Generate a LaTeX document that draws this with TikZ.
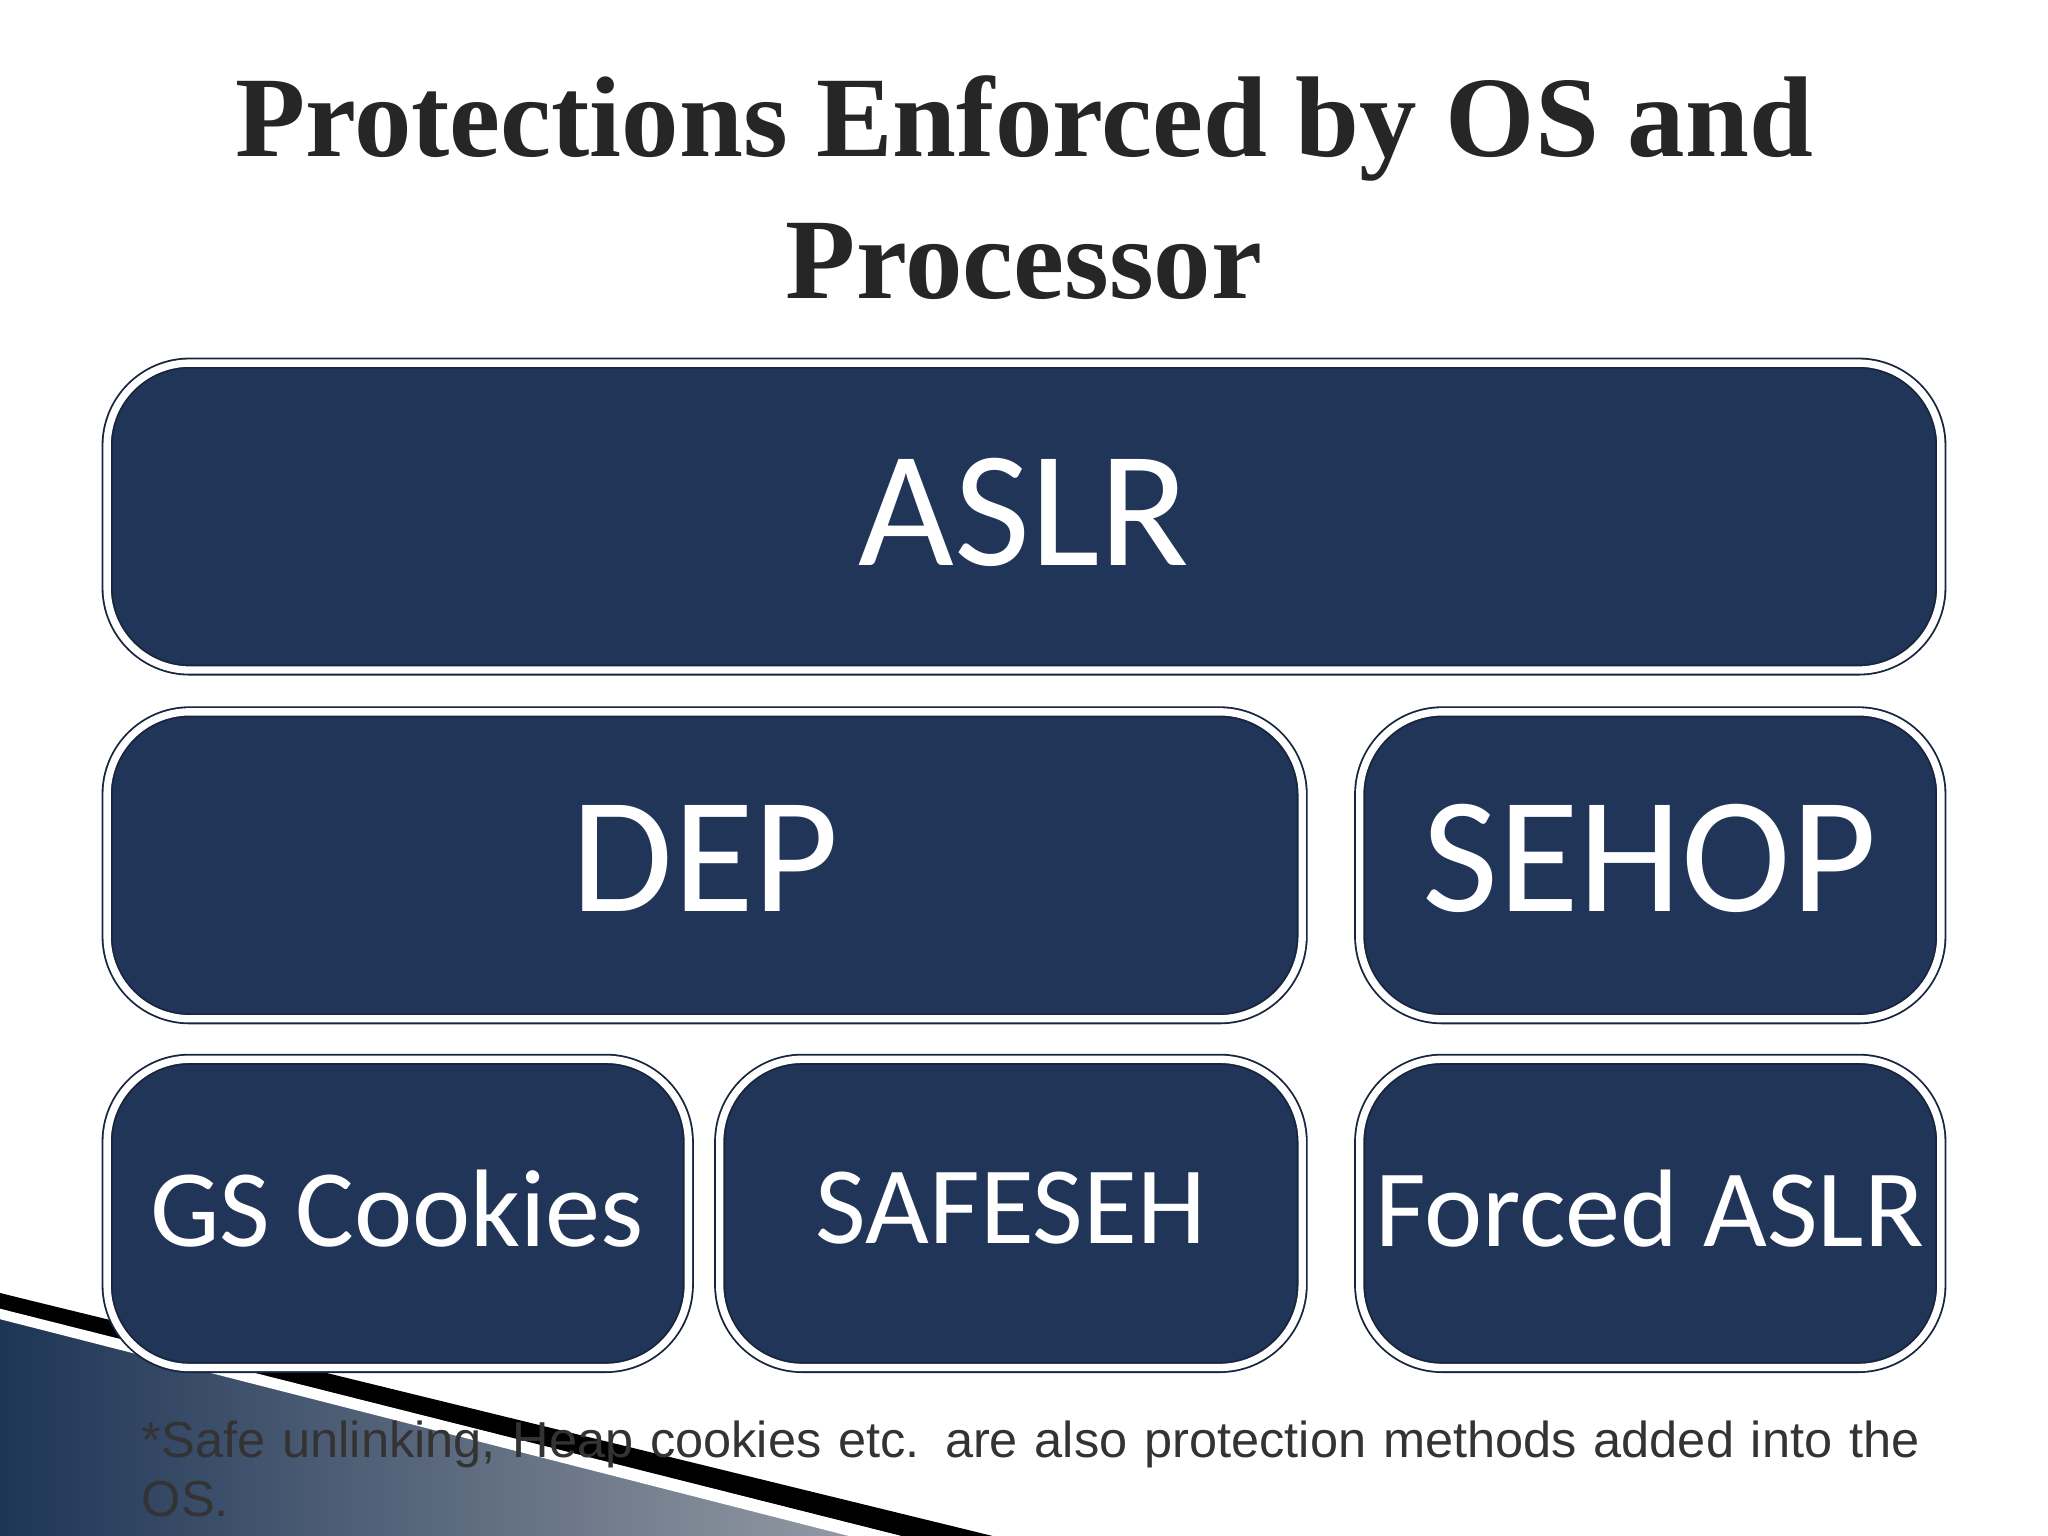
\documentclass[tikz,border=0pt]{standalone}
\usepackage{fontspec}
\setmainfont{Liberation Serif}
\newfontfamily\boxfont{Carlito}
\newfontfamily\notefont{Liberation Sans}
\definecolor{navy}{HTML}{213559}
\definecolor{deco}{HTML}{1E3556}
\begin{document}
\begin{tikzpicture}[x=0.01cm,y=-0.01cm,
  blk/.style={draw=navy!70!black,line width=0.4pt,fill=navy,rounded corners=18,
    double=white,double distance=1.6pt,text=white,inner sep=0},
  big/.style={font=\boxfont\fontsize{36}{40}\selectfont},
  small/.style={font=\boxfont\fontsize{24}{28}\selectfont}]
\useasboundingbox (0,0) rectangle (1568,1176);
% decoration bottom-left
\shade[left color=deco, right color=deco!40!gray!60] (0,990) -- (700,1176) -- (0,1176) -- cycle;
\fill[black] (0,990) -- (760,1176) -- (690,1176) -- (0,1002) -- cycle;
\fill[white] (0,1002) -- (690,1176) -- (650,1176) -- (0,1010) -- cycle;
% title
\node[font=\bfseries\fontsize{25}{30}\selectfont, text=black!85] (t1) at (784,98) {Protections Enforced by OS and};
\node[font=\bfseries\fontsize{25}{30}\selectfont, text=black!85] (t2) at (784,200) {Processor};
% boxes
\path[blk] (82,278) rectangle (1486,513);
\node[big,text=white] (aslr) at (784,392) {ASLR};
\path[blk] (82,545) rectangle (997,780);
\node[big,text=white] (dep) at (540,657) {DEP};
\path[blk] (1041,545) rectangle (1486,780);
\node[big,text=white] (sehop) at (1263,657) {SEHOP};
\path[blk] (82,811) rectangle (527,1047);
\node[small,text=white] (gs) at (304,925) {GS Cookies};
\path[blk] (551,811) rectangle (997,1047);
\node[small,text=white] (safe) at (774,925) {SAFESEH};
\path[blk] (1041,811) rectangle (1486,1047);
\node[small,text=white] (forced) at (1263,925) {Forced ASLR};
% note
\node[font=\notefont\fontsize{11}{13}\selectfont, text=black!80, anchor=north west, align=left, text width=1400*0.01cm, inner sep=0] (note) at (108,1087)
{*Safe unlinking, Heap cookies etc. are also protection methods added into the OS.};
\end{tikzpicture}
\end{document}
